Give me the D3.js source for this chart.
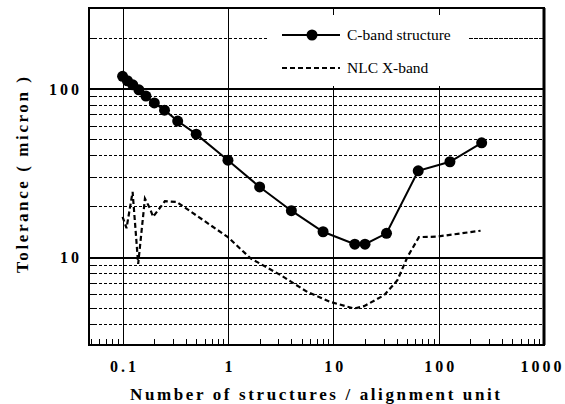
<!DOCTYPE html>
<html><head><meta charset="utf-8">
<script src="https://cdn.jsdelivr.net/npm/d3@7"></script>
<style>
html,body{margin:0;padding:0;background:#fff;}
svg{display:block;}
svg text{font-family:"Liberation Serif","Times New Roman","DejaVu Serif",serif !important;fill:#000;}
</style></head>
<body>
<svg id="chart" width="565" height="404"></svg>
<script>
// ---- data ----
const cbandX = [0.1, 1/9, 1/8, 1/7, 1/6, 0.2, 0.25, 1/3, 0.5, 1, 2, 4, 8, 16, 20, 32, 64, 128, 256];
const cbandY = [118, 111, 105, 98, 90, 82, 74.3, 64, 53.5, 37.5, 26, 18.8, 14.1, 11.9, 11.9, 13.8, 32.4, 36.7, 47.5];
const nlcX = [0.1, 0.109, 0.1245, 0.1406, 0.163, 0.1816, 0.195, 0.252, 0.326, 1.0, 1.64, 3.17, 5.68, 9.44, 15.7, 19.6, 30.3, 40.6, 50.6, 65, 97, 250];
const nlcY = [17.3, 14.8, 24.3, 9.1, 22.2, 19.4, 17.3, 21.4, 21.2, 13.1, 9.8, 7.79, 6.19, 5.4, 4.94, 5.1, 5.92, 7.27, 10, 13.1, 13.2, 14.3];
const xTickValues = [0.1, 1, 10, 100, 1000];
const xTickLabels = ["0.1", "1", "10", "100", "1000"];
const yTickValues = [10, 100];
const yTickLabels = ["10", "100"];
const seriesNames = ["C-band structure", "NLC X-band"];
const xTitle = "Number of structures / alignment unit";
const yTitle = "Tolerance ( micron )";

// ---- layout ----
const svg = d3.select("#chart");
const L = 89, R = 544, T = 8, B = 345;
const x = d3.scaleLog().domain([0.048, 1000]).range([L, R]);
const y = d3.scaleLog().domain([3, 300]).range([B, T]);
const SERIF = "Liberation Serif, Times New Roman, DejaVu Serif, serif";
const ry = v => Math.round(y(v)) + 0.5;
const rx = v => Math.round(x(v)) + 0.5;

// minor values
const yMinor = [], xMinor = [];
[1, 10, 100].forEach(d => { for (let k = 2; k <= 9; k++) { const v = d * k; if (v >= 3 && v < 300) yMinor.push(v); } });
[0.01, 0.1, 1, 10, 100].forEach(d => { for (let k = 2; k <= 9; k++) { const v = d * k; if (v > 0.048 && v < 1000) xMinor.push(v); } });

const g = svg.append("g");

// dotted horizontal grid
g.selectAll(".hg").data(yMinor).enter().append("line")
  .attr("x1", L).attr("x2", R).attr("y1", ry).attr("y2", ry)
  .attr("stroke", "#000").attr("stroke-width", 1).attr("stroke-dasharray", "3,2")
  .attr("shape-rendering", "crispEdges");
// solid horizontal grid
g.selectAll(".hs").data(yTickValues).enter().append("line")
  .attr("x1", L).attr("x2", R).attr("y1", ry).attr("y2", ry)
  .attr("stroke", "#000").attr("stroke-width", 2).attr("shape-rendering", "crispEdges");
// solid vertical grid
g.selectAll(".vs").data(xTickValues.filter(v => v < 1000)).enter().append("line")
  .attr("x1", rx).attr("x2", rx).attr("y1", T).attr("y2", B)
  .attr("stroke", "#000").attr("stroke-width", 1.5).attr("shape-rendering", "crispEdges");

// inward minor ticks
g.selectAll(".xm").data(xMinor).enter().append("line")
  .attr("x1", rx).attr("x2", rx).attr("y1", B).attr("y2", B - 6)
  .attr("stroke", "#000").attr("stroke-width", 1.3).attr("shape-rendering", "crispEdges");
g.selectAll(".ym").data(yMinor).enter().append("line")
  .attr("x1", L).attr("x2", L + 6).attr("y1", ry).attr("y2", ry)
  .attr("stroke", "#000").attr("stroke-width", 1.3).attr("shape-rendering", "crispEdges");

// legend background
g.append("rect").attr("x", 268).attr("y", 15).attr("width", 200).attr("height", 71).attr("fill", "#fff");

// NLC dashed line
const pts = (xs, ys) => xs.map((v, i) => [v, ys[i]]);
const line = d3.line().x(d => x(d[0])).y(d => y(d[1]));
g.append("path").datum(pts(nlcX, nlcY)).attr("d", line)
  .attr("fill", "none").attr("stroke", "#000").attr("stroke-width", 2.2).attr("stroke-dasharray", "5,3");

// C-band line + markers
g.append("path").datum(pts(cbandX, cbandY)).attr("d", line)
  .attr("fill", "none").attr("stroke", "#000").attr("stroke-width", 2);
g.selectAll(".cm").data(pts(cbandX, cbandY)).enter().append("circle")
  .attr("cx", d => x(d[0])).attr("cy", d => y(d[1])).attr("r", 5.5).attr("fill", "#000");

// legend
const lg = svg.append("g");
lg.append("line").attr("x1", 282).attr("x2", 340).attr("y1", 35).attr("y2", 35).attr("stroke", "#000").attr("stroke-width", 2);
lg.append("circle").attr("cx", 312).attr("cy", 35).attr("r", 5.5).attr("fill", "#000");
lg.append("text").attr("x", 347).attr("y", 40).attr("font-family", SERIF).attr("font-size", 15.5).text(seriesNames[0]);
lg.append("line").attr("x1", 282).attr("x2", 340).attr("y1", 68).attr("y2", 68).attr("stroke", "#000").attr("stroke-width", 2.2).attr("stroke-dasharray", "5,3");
lg.append("text").attr("x", 347).attr("y", 73).attr("font-family", SERIF).attr("font-size", 15.5).text(seriesNames[1]);
// dotted continuation after legend text
lg.append("line").attr("x1", 470).attr("x2", R).attr("y1", ry(200)).attr("y2", ry(200))
  .attr("stroke", "#000").attr("stroke-width", 1).attr("stroke-dasharray", "3,2").attr("shape-rendering", "crispEdges");

// frame
svg.append("line").attr("x1", L).attr("x2", L).attr("y1", T).attr("y2", B).attr("stroke", "#000").attr("stroke-width", 2);
svg.append("line").attr("x1", L - 1).attr("x2", R + 1).attr("y1", B).attr("y2", B).attr("stroke", "#000").attr("stroke-width", 2);
svg.append("line").attr("x1", L - 1).attr("x2", R + 1).attr("y1", T).attr("y2", T).attr("stroke", "#000").attr("stroke-width", 2);
svg.append("line").attr("x1", R).attr("x2", R).attr("y1", T).attr("y2", B).attr("stroke", "#000").attr("stroke-width", 3);

// axes labels via d3 axes (no domain/ticks, just text)
const xAxis = d3.axisBottom(x).tickValues(xTickValues).tickSize(0).tickPadding(0)
  .tickFormat((d, i) => xTickLabels[i]);
const xa = svg.append("g").attr("transform", `translate(0,${B})`).call(xAxis)
  .attr("font-family", SERIF);
xa.select(".domain").remove();
xa.selectAll("text").attr("y", 27).attr("dy", 0).attr("font-size", 16).attr("font-weight", "bold")
  .attr("font-family", SERIF).attr("letter-spacing", "3px")
  .attr("dx", (d, i) => i === xTickValues.length - 1 ? "-2px" : "1.5px").attr("fill", "#000");

const yAxis = d3.axisLeft(y).tickValues(yTickValues).tickSize(0).tickPadding(0)
  .tickFormat((d, i) => yTickLabels[i]);
const ya = svg.append("g").attr("transform", `translate(${L},0)`).call(yAxis)
  .attr("font-family", SERIF);
ya.select(".domain").remove();
ya.selectAll("text").attr("x", -7).attr("dy", "0.38em").attr("font-size", 16).attr("font-weight", "bold")
  .attr("font-family", SERIF).attr("letter-spacing", "3px").attr("fill", "#000");

// titles
svg.append("text").attr("x", 315).attr("y", 400).attr("text-anchor", "middle").attr("font-family", SERIF)
  .attr("font-size", 17).attr("font-weight", "bold").attr("textLength", 370).attr("lengthAdjust", "spacing").text(xTitle);
svg.append("text").attr("transform", "translate(28,175) rotate(-90)").attr("text-anchor", "middle").attr("font-family", SERIF)
  .attr("font-size", 17).attr("font-weight", "bold").attr("textLength", 196).attr("lengthAdjust", "spacing").text(yTitle);
</script>
</body></html>
